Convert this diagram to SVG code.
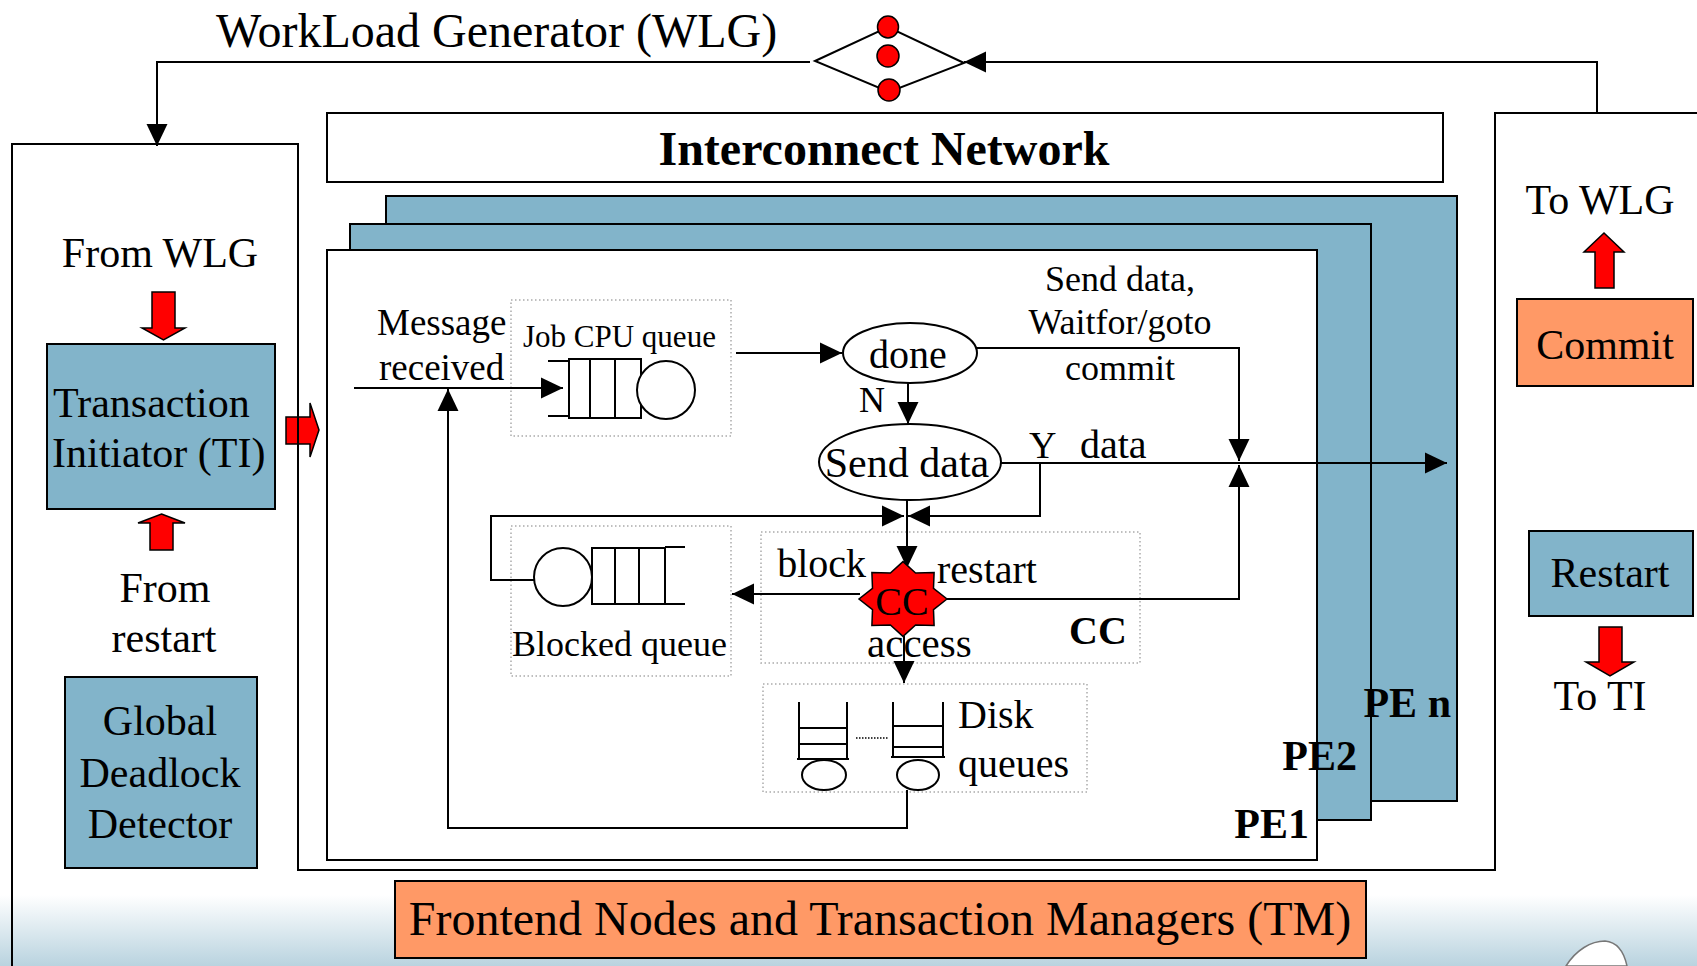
<svg xmlns="http://www.w3.org/2000/svg" width="1697" height="966" viewBox="0 0 1697 966">
  <style>
    text { font-family: "Liberation Serif", "Times New Roman", serif; fill: #000; }
    .t48 { font-size: 48px; }
    .t42 { font-size: 42px; }
    .t40 { font-size: 40px; }
    .t36 { font-size: 36px; }
    .b { font-weight: bold; }
    .mid { text-anchor: middle; }
    .end { text-anchor: end; }
    .box { fill: #fff; stroke: #000; stroke-width: 2; }
    .blue { fill: #82B4CA; stroke: #000; stroke-width: 2; }
    .orange { fill: #FF9966; stroke: #000; stroke-width: 2; }
    .red { fill: #FF0000; stroke: #000; stroke-width: 1.5; }
    .wire { fill: none; stroke: #000; stroke-width: 2; }
    .arrow { fill: none; stroke: #000; stroke-width: 2; marker-end: url(#tip); }
    .dots { fill: none; stroke: #aaa; stroke-width: 1.5; stroke-dasharray: 1.5 2.5; }
    .q { fill: #fff; stroke: #000; stroke-width: 2; }
  </style>
  <defs>
    <marker id="tip" markerUnits="userSpaceOnUse" markerWidth="22" markerHeight="22" viewBox="0 0 21 20" refX="21" refY="10" orient="auto">
      <path d="M0,0 L21,10 L0,20 z" fill="#000"/>
    </marker>
    <linearGradient id="floor" x1="0" y1="0" x2="0" y2="1">
      <stop offset="0" stop-color="#ffffff"/>
      <stop offset="1" stop-color="#b9d3df"/>
    </linearGradient>
  </defs>

  <!-- background -->
  <rect x="0" y="0" width="1697" height="966" fill="#fff"/>
  <rect x="0" y="895" width="1697" height="71" fill="url(#floor)"/>
  <path d="M1566,966 C1576,950 1591,941 1605,941 C1617,942 1624,952 1627,966 Z" fill="#fff" stroke="#777" stroke-width="1.5"/>

  <!-- Transaction Initiator hand-off arrow (sits under the panel border) -->
  <polygon class="red" points="286,417 310,417 310,403 319,430 310,457 310,444 286,444"/>

  <!-- panel outlines: TM panel, processing area, commit/restart panel -->
  <path class="wire" d="M12,966 V144 H298 V870 H1495 V113 H1697"/>

  <!-- Workload generator -->
  <g id="wlg">
    <text class="t48" x="216" y="47">WorkLoad Generator (WLG)</text>
    <polygon points="815,61 888,27 964,63 889,92" fill="none" stroke="#000" stroke-width="2"/>
    <ellipse class="red" cx="888" cy="27" rx="10.5" ry="11"/>
    <ellipse class="red" cx="888" cy="56" rx="11" ry="11"/>
    <ellipse class="red" cx="889" cy="90" rx="11" ry="11"/>
  </g>

  <!-- Interconnect -->
  <g id="interconnect">
    <rect class="box" x="327" y="113" width="1116" height="69"/>
    <text class="t48 b mid" x="884" y="165">Interconnect Network</text>
  </g>

  <!-- Processing elements -->
  <g id="pe-n"><rect class="blue" x="386" y="196" width="1071" height="605"/></g>
  <g id="pe-2"><rect class="blue" x="350" y="224" width="1021" height="596"/></g>
  <g id="pe-1"><rect class="box" x="327" y="250" width="990" height="610"/></g>

  <!-- Transaction manager panel -->
  <g id="ti-panel">
    <text class="t42 mid" x="160" y="267">From WLG</text>
    <polygon class="red" points="152,292 175,292 175,328 185,328 163.5,340 142,328 152,328"/>
    <polygon class="red" points="161.5,514 185,523 173,523 173,550 150,550 150,523 138,523"/>
    <text class="t42 mid" x="165" y="602">From</text>
    <text class="t42 mid" x="164" y="652">restart</text>
  </g>
  <g id="ti">
    <rect class="blue" x="47" y="344" width="228" height="165"/>
    <text class="t42" x="53" y="417">Transaction</text>
    <text class="t42" x="52" y="467">Initiator (TI)</text>
  </g>
  <g id="gdd">
    <rect class="blue" x="65" y="677" width="192" height="191"/>
    <text class="t42 mid" x="160" y="735">Global</text>
    <text class="t42 mid" x="160" y="787">Deadlock</text>
    <text class="t42 mid" x="160" y="838">Detector</text>
  </g>

  <!-- Commit / restart panel -->
  <g id="to-wlg">
    <text class="t42 mid" x="1600" y="214">To WLG</text>
    <polygon class="red" points="1604,233 1624,252 1614,252 1614,288 1595,288 1595,252 1584,252"/>
  </g>
  <g id="commit">
    <rect class="orange" x="1517" y="299" width="176" height="87"/>
    <text class="t42 mid" x="1605" y="359">Commit</text>
  </g>
  <g id="restart">
    <rect class="blue" x="1529" y="531" width="164" height="85"/>
    <text class="t42 mid" x="1610" y="587">Restart</text>
    <polygon class="red" points="1599,627 1622,627 1622,662 1634,662 1610,676 1586,662 1599,662"/>
    <text class="t42 mid" x="1600" y="710">To TI</text>
  </g>

  <!-- Frontend label -->
  <g id="frontend">
    <rect class="orange" x="395" y="881" width="971" height="77"/>
    <text class="t48 mid" x="880" y="935">Frontend Nodes and Transaction Managers (TM)</text>
  </g>

  <!-- PE1 internals -->
  <g id="msg-label">
    <text x="377" y="335" style="font-size:37px">Message</text>
    <text x="379" y="380" style="font-size:37px">received</text>
  </g>
  <g id="cpu-queue">
    <rect class="dots" x="511" y="300" width="220" height="136"/>
    <text x="523" y="347" style="font-size:31px">Job CPU queue</text>
    <rect class="q" x="569" y="359" width="72" height="59"/>
    <path class="wire" d="M548,361 H569 M548,416 H569 M590,359 V418 M615,359 V418"/>
    <circle class="q" cx="666" cy="390" r="29"/>
  </g>
  <g id="done">
    <ellipse class="q" cx="910" cy="353" rx="67" ry="30"/>
    <text class="t40 mid" x="908" y="368">done</text>
  </g>
  <g id="send-data">
    <ellipse class="q" cx="910" cy="462" rx="91" ry="38"/>
    <text class="t42 mid" x="907" y="477">Send data</text>
  </g>
  <g id="commit-note">
    <text class="t36 mid" x="1120" y="291">Send data,</text>
    <text class="t36 mid" x="1120" y="334">Waitfor/goto</text>
    <text class="t36 mid" x="1120" y="380">commit</text>
  </g>
  <g id="blocked-queue">
    <rect class="dots" x="511" y="526" width="220" height="150"/>
    <circle class="q" cx="563" cy="577" r="29"/>
    <rect class="q" x="592" y="548" width="73" height="56"/>
    <path class="wire" d="M665,547 H685 M665,604 H685 M615,548 V604 M639,548 V604"/>
    <text class="t36" x="512" y="656">Blocked queue</text>
  </g>
  <g id="cc-box">
    <rect class="dots" x="761" y="532" width="379" height="131"/>
    <text class="t40 b" x="1069" y="644">CC</text>
  </g>
  <g id="disk-queues">
    <rect class="dots" x="763" y="684" width="324" height="108"/>
    <path class="wire" d="M799,702 V759 M847,702 V759 M799,728 H847 M799,744 H847 M797,759 H849"/>
    <ellipse class="q" cx="824" cy="775" rx="22" ry="15"/>
    <path class="wire" d="M893,702 V757 M943,702 V757 M893,726 H943 M893,747 H943 M891,757 H945"/>
    <ellipse class="q" cx="918" cy="775" rx="21" ry="15"/>
    <path d="M856,738 H888" stroke="#000" stroke-width="1.5" stroke-dasharray="1.5 1.5"/>
    <text class="t40" x="958" y="728">Disk</text>
    <text class="t40" x="958" y="777">queues</text>
  </g>

  <!-- Connectors -->
  <g id="connectors">
    <path class="arrow" d="M810,62 H157 V146"/>
    <path class="arrow" d="M1597,113 V62 H964"/>
    <path class="arrow" d="M354,388 H563"/>
    <path class="arrow" d="M907,790 V828 H448 V389"/>
    <path class="arrow" d="M736,353 H842"/>
    <path class="arrow" d="M908,383 V424"/>
    <path class="arrow" d="M977,348 H1239 V461"/>
    <path class="arrow" d="M1001,463 H1447"/>
    <path class="arrow" d="M947,599 H1239 V465"/>
    <path class="arrow" d="M1040,463 V516 H908"/>
    <path class="arrow" d="M534,580 H491 V516 H904"/>
    <path class="arrow" d="M907,500 V568"/>
    <path class="arrow" d="M860,594 H732"/>
    <path class="arrow" d="M904,636 V683"/>
  </g>

  <!-- Concurrency control node -->
  <g id="cc">
    <polygon class="red" points="947,599 933.5,609.7 934.1,625.4 915.6,624.9 903,636.4 890.4,624.9 871.9,625.4 872.5,609.7 859,599 872.5,588.3 871.9,572.6 890.4,573.1 903,561.6 915.6,573.1 934.1,572.6 933.5,588.3"/>
    <text class="t40 mid" x="902" y="615">CC</text>
  </g>

  <!-- Connector labels -->
  <g id="labels">
    <text class="t36" x="859" y="412">N</text>
    <text class="t36" x="1029" y="458" style="font-size:38px">Y</text>
    <text class="t40" x="1080" y="458">data</text>
    <text class="t40 end" x="866" y="577">block</text>
    <text class="t40" x="937" y="583">restart</text>
    <text class="t40" x="867" y="657" style="font-size:41px">access</text>
  </g>

  <!-- PE names -->
  <g id="pe-names">
    <text class="t42 b end" x="1451" y="717">PE n</text>
    <text class="t42 b end" x="1357" y="770">PE2</text>
    <text class="t42 b end" x="1309" y="838">PE1</text>
  </g>
</svg>
